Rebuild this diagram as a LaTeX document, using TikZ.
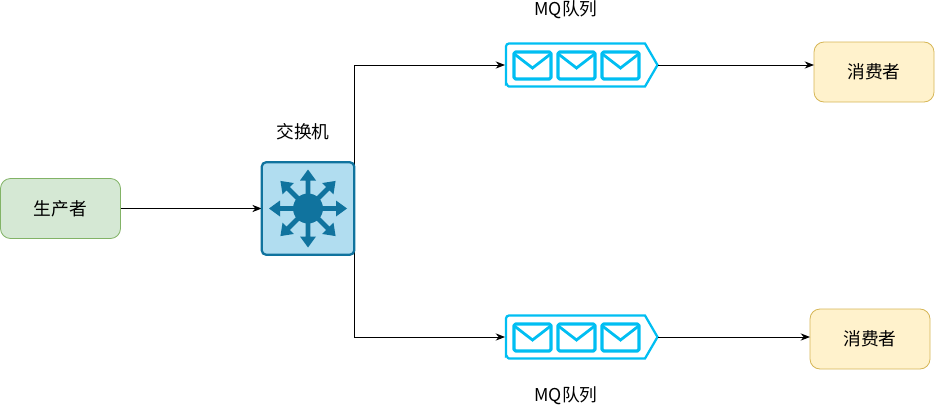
\documentclass[tikz,border=0pt]{standalone}
\usepackage{fontspec}
\setmainfont{Liberation Sans}
\newfontfamily\cjk{Noto Sans CJK SC}
\usetikzlibrary{arrows.meta}
\definecolor{greenfill}{HTML}{D5E8D4}
\definecolor{greenline}{HTML}{82B366}
\definecolor{yellowfill}{HTML}{FFF2CC}
\definecolor{yellowline}{HTML}{D6B656}
\definecolor{switchfill}{HTML}{B1DDF0}
\definecolor{switchline}{HTML}{10739E}
\definecolor{queueline}{HTML}{00BEF2}
\tikzset{
  x=0.75pt,y=-0.75pt,
  every node/.style={font=\fontsize{13.3pt}{15pt}\selectfont\cjk,inner sep=0pt,outer sep=0pt},
  process/.style={rounded corners=7.5pt,line width=0.6pt,minimum width=90pt,minimum height=45pt},
  producer/.style={process,draw=greenline,fill=greenfill},
  consumer/.style={process,draw=yellowline,fill=yellowfill},
  link/.style={draw=black,line width=0.7pt,-{Stealth[length=7pt,width=5.4pt]}},
  caption/.style={},
  mail/.style={draw=queueline,line width=2.4pt,rounded corners=1.2pt,line join=round},
  % message queue: a tagged outline with three envelopes, origin at its left-middle point
  pics/mqueue/.style={code={
    \node[minimum width=115pt,minimum height=33pt,anchor=west] (-body) at (0,0) {};
    \draw[queueline,line width=1.7pt,line join=miter]
      (4,-21.5) -- (140,-21.5) -- (152.5,0) -- (140,21.5) -- (4,21.5)
      to[out=180,in=90] (1,18.5) -- (1,-18.5) to[out=90,in=180] (4,-21.5) -- cycle;
    \foreach \ex in {9,53,97}{
      \draw[mail] (\ex,-13) rectangle ++(37,27);
      \draw[draw=queueline,line width=2.1pt,line join=miter] (\ex+1,-10.5) -- (\ex+18.5,3) -- (\ex+36,-10.5);
    }
  }},
  hub/.style={draw=none,fill=switchline}
}
\begin{document}
\begin{tikzpicture}
\useasboundingbox (0,0) rectangle (935,407);

% queues and end points
\node[producer] (prod) at (60.5,208.5) {生产者};
\node[consumer] (cons1) at (874,72) {消费者};
\node[consumer] (cons2) at (870,339) {消费者};
\node[minimum width=69.5pt,minimum height=69.5pt] (sw) at (308,208.5) {};

\pic (qa) at (505,65) {mqueue};
\pic (qb) at (505,337) {mqueue};
\coordinate (qaout) at (658,65);
\coordinate (qbout) at (658,337);

% connectors
\draw[link] (prod.east) -- (sw.west);
\draw[link] (sw.east) |- (qa-body.west);
\draw[link] (sw.east) |- (qb-body.west);
\draw[link] (qaout) -- (qaout -| cons1.west);
\draw[link] (qbout) -- (qbout -| cons2.west);

% layer-3 switch symbol
\draw[draw=switchline,fill=switchfill,line width=1.7pt,rounded corners=3.5pt]
  (sw.south west) rectangle (sw.north east);
\fill[hub] (sw.center) circle[radius=15];
\foreach \ang/\len in {0/39,90/39,180/39,270/39,45/39,135/39,225/39,315/39}{
  \begin{scope}[shift={(sw.center)},rotate=\ang]
    \fill[hub] (10,-2.4) -- (\len-11,-2.4) -- (\len-11,-8) -- (\len,0) -- (\len-11,8) -- (\len-11,2.4) -- (10,2.4) -- cycle;
  \end{scope}
}

% captions
\node[caption] (lblsw) at (303,131.5) {交换机};
\node[caption] (lblqa) at (566,9.5) {MQ队列};
\node[caption] (lblqb) at (566,395.5) {MQ队列};
\end{tikzpicture}
\end{document}
